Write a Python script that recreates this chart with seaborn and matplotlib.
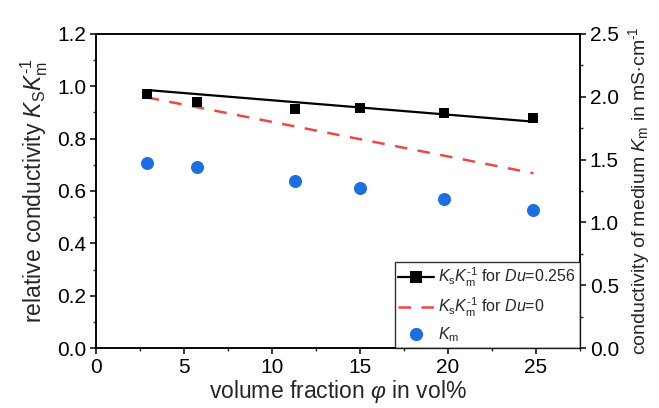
import matplotlib
matplotlib.use("Agg")
import matplotlib.pyplot as plt
from matplotlib.ticker import MultipleLocator, AutoMinorLocator, FormatStrFormatter
from matplotlib.lines import Line2D
import seaborn as sns
import pandas as pd

# Volume fraction of particles (vol%)
phi = [2.88, 5.73, 11.3, 15.0, 19.77, 24.85]
# Measured relative conductivity Ks/Km
ratio_meas = [0.971, 0.941, 0.912, 0.916, 0.899, 0.879]
# Model curves evaluated at the first and last volume fraction
phi_model = [2.88, 24.85]
ratio_du256 = [0.986, 0.865]
ratio_du0 = [0.958, 0.668]
# Conductivity of the medium Km (mS/cm)
km = [1.47, 1.44, 1.33, 1.27, 1.19, 1.10]

sns.set_style("ticks")
plt.rcParams["font.family"] = ["Liberation Sans", "DejaVu Sans"]
plt.rcParams["mathtext.fontset"] = "custom"
plt.rcParams["mathtext.rm"] = "Liberation Sans"
plt.rcParams["mathtext.it"] = "Liberation Sans:italic"
plt.rcParams["mathtext.bf"] = "Liberation Sans:bold"

black = "#000000"
red = "#f04646"
blue = "#1b6fe0"

meas = pd.DataFrame({"phi": phi, "ratio": ratio_meas, "km": km})
model = pd.DataFrame({"phi": phi_model, "du256": ratio_du256, "du0": ratio_du0})

fig = plt.figure(figsize=(6.59, 4.08), dpi=100)
ax = fig.add_axes([96 / 659, 60 / 408, 484 / 659, 314 / 408])
ax2 = ax.twinx()

sns.lineplot(data=model, x="phi", y="du256", ax=ax, color=black, lw=1.6)
sns.lineplot(data=model, x="phi", y="du0", ax=ax, color=red, lw=1.8,
             linestyle=(0, (5, 4.2)))
sns.scatterplot(data=meas, x="phi", y="ratio", ax=ax, color=black,
                marker="s", s=62, edgecolor=black, linewidth=0, zorder=5)
sns.scatterplot(data=meas, x="phi", y="km", ax=ax2, color=blue,
                marker="o", s=88, edgecolor=blue, linewidth=0, zorder=5)

ax.set_xlim(0, 27.5)
ax.set_ylim(0, 1.2)
ax2.set_ylim(0, 2.5)

ax.xaxis.set_major_locator(MultipleLocator(5))
ax.xaxis.set_minor_locator(AutoMinorLocator(2))
ax.yaxis.set_major_locator(MultipleLocator(0.2))
ax.yaxis.set_minor_locator(AutoMinorLocator(2))
ax2.yaxis.set_major_locator(MultipleLocator(0.5))
ax2.yaxis.set_minor_locator(AutoMinorLocator(2))
ax.yaxis.set_major_formatter(FormatStrFormatter("%.1f"))
ax2.yaxis.set_major_formatter(FormatStrFormatter("%.1f"))

for a in (ax, ax2):
    for sp in a.spines.values():
        sp.set_linewidth(1.1)
        sp.set_color(black)
    a.tick_params(which="major", direction="out", length=4, width=1.1,
                  labelsize=15, colors=black, pad=3)
    a.tick_params(which="minor", direction="out", length=2.5, width=1.0)
ax.tick_params(top=False, which="both")
ax2.tick_params(top=False, which="both")

ax.set_xlabel(r"volume fraction $\varphi$ in vol%", fontsize=16.5, labelpad=1)
ax.set_ylabel(r"relative conductivity $K_\mathrm{S}K_\mathrm{m}^{\text{-1}}$",
              fontsize=16.5, labelpad=5)
ax2.set_ylabel(r"conductivity of medium $K_\mathrm{m}$ in mS$\cdot$cm$^{\text{-1}}$",
               fontsize=14, labelpad=5)

handles = [
    Line2D([], [], color=black, lw=1.6, marker="s", markersize=8,
           markeredgewidth=0),
    Line2D([], [], color=red, lw=1.8, linestyle=(0, (5, 4.2))),
    Line2D([], [], color=blue, lw=0, marker="o", markersize=9.5,
           markeredgewidth=0),
]
labels = [
    r"$K_\mathrm{s}K_\mathrm{m}^{\text{-1}}$ for $Du$=0.256",
    r"$K_\mathrm{s}K_\mathrm{m}^{\text{-1}}$ for $Du$=0",
    r"$K_\mathrm{m}$",
]
leg = ax2.legend(handles, labels, loc="lower right", fontsize=11.5,
                 frameon=True, fancybox=False, edgecolor=black,
                 borderaxespad=0, handlelength=2.2, handletextpad=0.3,
                 labelspacing=0.4, borderpad=0.25)
leg.get_frame().set_linewidth(1.0)

fig.savefig("out.png", dpi=100)
